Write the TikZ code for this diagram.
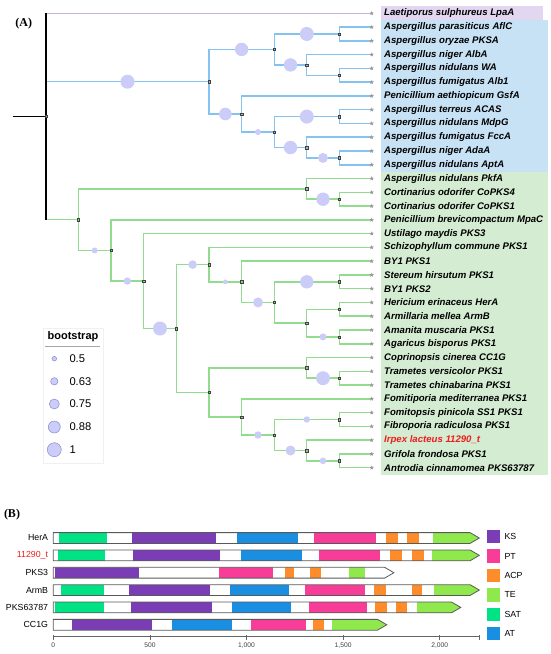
\documentclass[tikz,border=0pt]{standalone}
\usepackage{fontspec}
\setmainfont{Liberation Sans}
\newfontfamily\serifhead{Liberation Serif}
\usetikzlibrary{calc,shapes.geometric}
\definecolor{bluebr}{RGB}{132,194,240}
\definecolor{greenbr}{RGB}{146,220,144}
\definecolor{purplebr}{RGB}{196,178,232}
\definecolor{blueband}{RGB}{200,226,245}
\definecolor{greenband}{RGB}{212,236,210}
\definecolor{purpleband}{RGB}{226,214,240}
\definecolor{bootfill}{RGB}{204,204,248}
\definecolor{irpred}{RGB}{238,28,28}
\definecolor{colKS}{RGB}{123,61,181}
\definecolor{colPT}{RGB}{247,61,152}
\definecolor{colACP}{RGB}{255,140,42}
\definecolor{colTE}{RGB}{143,232,76}
\definecolor{colSAT}{RGB}{0,227,133}
\definecolor{colAT}{RGB}{26,142,224}

\begin{document}
\begin{tikzpicture}[x=1pt,y=-1pt,
    blueline/.style={bluebr,line width=1.5pt},
    greenline/.style={greenbr,line width=1.5pt},
    knot/.style={draw=black!75,fill=gray!60,line width=0.4pt,minimum size=2.4pt,inner sep=0pt},
    tipstar/.style={star,star points=5,star point ratio=2.3,fill=gray!80,minimum size=4.6pt,inner sep=0pt},
    tiplab/.style={anchor=west,inner sep=0pt,font=\fontsize{9.6}{11}\bfseries\itshape\selectfont},
    boot/.style={fill=bootfill},
    genebox/.style={draw=black!65,line width=0.8pt},
    small/.style={font=\fontsize{8.8}{10}\selectfont,inner sep=0pt}]
  \useasboundingbox (0,0) rectangle (550,654);
  % clade bands
  \fill[purpleband] (381,6.4) rectangle (543,20.2);
  \fill[blueband] (381,20.2) rectangle (548,171.7);
  \fill[greenband] (381,171.7) rectangle (548,474.6);
  % tips
  \foreach \i in {0,...,33} \coordinate (t\i) at (371.7,{13.3+13.77*\i});
  % inner nodes, blue clade
  \coordinate (root) at (46,116.48);
  \coordinate (B0) at (209,81.72);   \coordinate (B1) at (274.3,49.45);
  \coordinate (B1a) at (339.3,33.96); \coordinate (B1b) at (306.7,64.94);
  \coordinate (B1c) at (339.3,75.27); \coordinate (B2) at (241.7,114.0);
  \coordinate (B3) at (274.3,132.07); \coordinate (B3a) at (339.3,116.58);
  \coordinate (B3b) at (306.7,147.56); \coordinate (B3c) at (339.3,157.89);
  % inner nodes, green clade
  \coordinate (G0) at (78.3,219.66);  \coordinate (G0b) at (306.7,188.87);
  \coordinate (G0a) at (339.3,199.2); \coordinate (G1) at (111,250.46);
  \coordinate (G2) at (143.7,281.06); \coordinate (G3) at (176.3,328.5);
  \coordinate (G4) at (209,264.6);    \coordinate (G5) at (241.7,281.82);
  \coordinate (G6) at (274.3,302.48); \coordinate (G6a) at (339.3,281.82);
  \coordinate (G6b) at (306.7,323.13); \coordinate (G6c) at (339.3,309.36);
  \coordinate (G6d) at (339.3,336.9); \coordinate (G7) at (209,392.41);
  \coordinate (G7b) at (306.7,367.88); \coordinate (G7a) at (339.3,378.2);
  \coordinate (G8) at (241.7,416.94); \coordinate (G8b) at (274.3,435.01);
  \coordinate (G8c) at (339.3,419.52); \coordinate (G8d) at (306.7,450.5);
  \coordinate (G8e) at (339.3,460.83);
  % branches
  \draw[purplebr,line width=1.5pt] (root |- t0) -- (t0);
  \draw[blueline] (root |- B0) -- (B0);
  \draw[greenline] (root |- G0) -- (G0);
  \foreach \p/\c in {B0/B1,B0/B2,B1/B1a,B1/B1b,B1b/B1c,B2/B3,B3/B3a,B3/B3b,B3b/B3c,
      B1a/t1,B1a/t2,B1b/t3,B1c/t4,B1c/t5,B2/t6,B3a/t7,B3a/t8,B3b/t9,B3c/t10,B3c/t11}
    \draw[blueline] (\p) |- (\c);
  \foreach \p/\c in {G0/G0b,G0/G1,G0b/t12,G0b/G0a,G0a/t13,G0a/t14,G1/t15,G1/G2,G2/t16,G2/G3,
      G3/G4,G3/G7,G4/t17,G4/G5,G5/t18,G5/G6,G6/G6a,G6/G6b,G6a/t19,G6a/t20,G6b/G6c,G6b/G6d,
      G6c/t21,G6c/t22,G6d/t23,G6d/t24,G7/G7b,G7/G8,G7b/t25,G7b/G7a,G7a/t26,G7a/t27,G8/t28,
      G8/G8b,G8b/G8c,G8b/G8d,G8c/t29,G8c/t30,G8d/t31,G8d/G8e,G8e/t32,G8e/t33}
    \draw[greenline] (\p) |- (\c);
  \draw[black,line width=1.5pt] (12.7,116.48) -- (root);
  \draw[black,line width=1.5pt] (root |- t0) -- (root |- G0);
  % bootstrap bubbles
  \foreach \p/\c/\r in {root/B0/7,B0/B1/6.7,B0/B2/6.3,B1/B1a/7,B1/B1b/6.7,B2/B3/3,B3/B3a/7,
      B3/B3b/6.7,B3b/B3c/5,G0b/G0a/6.7,G0/G1/3,G1/G2/3.7,G2/G3/7,G3/G4/4.3,G4/G5/2.4,G5/G6/5,
      G6/G6a/6.7,G6b/G6d/3.5,G7b/G7a/7,G8/G8b/3.7,G8b/G8c/3.2,G8b/G8d/5,G8d/G8e/3.3}
    \fill[boot] ($(\p |- \c)!.5!(\c)$) circle (\r);
  \foreach \n in {root,B0,B1,B1a,B1b,B1c,B2,B3,B3a,B3b,B3c,G0,G0a,G0b,G1,G2,G3,G4,G5,G6,
      G6a,G6b,G6c,G6d,G7,G7a,G7b,G8,G8b,G8c,G8d,G8e}
    \node[knot] (k\n) at (\n) {};
  \foreach \i in {0,...,33} \node[tipstar] (s\i) at (t\i) {};
  % tip labels
  \foreach \i/\name in {0/Laetiporus sulphureus LpaA,1/Aspergillus parasiticus AflC,
      2/Aspergillus oryzae PKSA,3/Aspergillus niger AlbA,4/Aspergillus nidulans WA,
      5/Aspergillus fumigatus Alb1,6/Penicillium aethiopicum GsfA,7/Aspergillus terreus ACAS,
      8/Aspergillus nidulans MdpG,9/Aspergillus fumigatus FccA,10/Aspergillus niger AdaA,
      11/Aspergillus nidulans AptA,12/Aspergillus nidulans PkfA,13/Cortinarius odorifer CoPKS4,
      14/Cortinarius odorifer CoPKS1,15/Penicillium brevicompactum MpaC,16/Ustilago maydis PKS3,
      17/Schizophyllum commune PKS1,18/BY1 PKS1,19/Stereum hirsutum PKS1,20/BY1 PKS2,
      21/Hericium erinaceus HerA,22/Armillaria mellea ArmB,23/Amanita muscaria PKS1,
      24/Agaricus bisporus PKS1,25/Coprinopsis cinerea CC1G,26/Trametes versicolor PKS1,
      27/Trametes chinabarina PKS1,28/Fomitiporia mediterranea PKS1,
      29/Fomitopsis pinicola SS1 PKS1,30/Fibroporia radiculosa PKS1,32/Grifola frondosa PKS1,
      33/Antrodia cinnamomea PKS63787}
    \node[tiplab] (l\i) at ([xshift=12.3pt]t\i) {\name};
  \node[tiplab,text=irpred] (l31) at ([xshift=12.3pt]t31) {Irpex lacteus 11290\_t};
  \node[font=\serifhead\bfseries\fontsize{12}{14}\selectfont] (lA) at (23.7,23.3) {(A)};
  % bootstrap legend
  \draw[black!6,fill=white] (43,328) rectangle (103,463);
  \node[font=\fontsize{11}{13}\bfseries\selectfont] (bt) at (73,336.5) {bootstrap};
  \draw[gray!70,line width=0.9pt] (45,346) -- (100,346);
  \foreach \v/\r/\y in {0.5/2.3/358.7,0.63/3.7/381.3,0.75/5/404,0.88/6/427,1/7/449.7} {
    \draw[boot,draw=bootfill!70!blue!70!gray,line width=0.5pt] (54.3,\y) circle (\r);
    \node[anchor=west,inner sep=0pt,font=\fontsize{11.2}{13}\selectfont] (bv\v) at (69.3,\y) {\v};
  }
  % (B) domains
  \node[font=\serifhead\bfseries\fontsize{12}{14}\selectfont] (lB) at (12,514.3) {(B)};
  \begin{scope}[shift={(53.3,0)},x=0.1932pt]
    \foreach \g/\lab/\len/\doms in {
        0/HerA/2205/{SAT/31/280,KS/409/842,AT/949/1265,PT/1349/1670,ACP/1722/1786,ACP/1831/1891,TE/1965/2205},
        1/\textcolor{irpred}{11290\_t}/2205/{SAT/23/268,KS/414/863,AT/970/1287,PT/1377/1693,ACP/1743/1803,ACP/1855/1919,TE/1960/2205},
        2/PKS3/1763/{KS/10/444,PT/856/1139,ACP/1199/1247,ACP/1329/1386,TE/1530/1613},
        3/ArmB/2205/{SAT/40/262,KS/393/813,AT/916/1222,PT/1304/1615,ACP/1661/1720,ACP/1855/1907,TE/1972/2205},
        4/PKS63787/2109/{SAT/10/262,KS/402/821,AT/925/1232,PT/1322/1622,ACP/1667/1726,ACP/1772/1831,TE/1881/2109},
        5/CC1G/1726/{KS/95/511,AT/614/925,PT/1022/1308,ACP/1344/1401,TE/1443/1726}} {
      \pgfmathsetmacro\yc{538+17.35*\g}
      \pgfmathsetmacro\ya{\yc-5.4}
      \pgfmathsetmacro\yb{\yc+5.4}
      \pgfmathsetmacro\hd{\len-48}
      \begin{scope}
        \clip (0,\ya) -- (\hd,\ya) -- (\len,\yc) -- (\hd,\yb) -- (0,\yb) -- cycle;
        \foreach \d/\s/\e in \doms \fill[col\d] (\s,\ya) rectangle (\e,\yb);
      \end{scope}
      \draw[genebox] (0,\ya) -- (\hd,\ya) -- (\len,\yc) -- (\hd,\yb) -- (0,\yb) -- cycle;
      \node[small,anchor=east] (g\g) at (-26,\yc) {\lab};
    }
    % axis
    \draw[black!60,line width=0.7pt] (0,636.7) -- (2205,636.7);
    \foreach \t/\tl in {0/0,500/500,1000/{1,000},1500/{1,500},2000/{2,000}} {
      \draw[black!60,line width=0.7pt] (\t,635) -- (\t,640);
      \node[font=\fontsize{6.7}{8}\selectfont,text=black!75,inner sep=0pt] (ax\t) at (\t,645.5) {\tl};
    }
    \draw[black!60,line width=0.7pt] (2205,635) -- (2205,640);
  \end{scope}
  % domain legend
  \foreach \d [count=\k from 0] in {KS,PT,ACP,TE,SAT,AT} {
    \fill[col\d] (486.7,{530+19.4*\k}) rectangle (500,{543.4+19.4*\k});
    \node[small,anchor=west] (d\d) at (504.3,{536.7+19.4*\k}) {\d};
  }
\end{tikzpicture}
\end{document}
